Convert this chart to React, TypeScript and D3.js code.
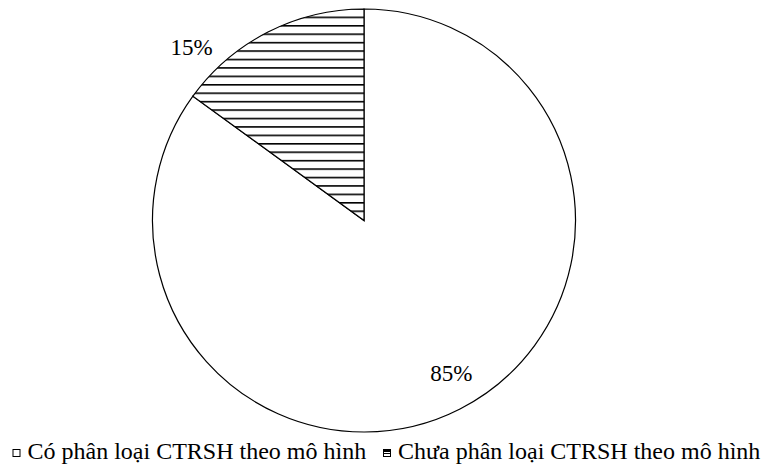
import * as d3 from "d3";
import { useEffect, useRef } from "react";

const categories: string[] = [
  "Có phân loại CTRSH theo mô hình",
  "Chưa phân loại CTRSH theo mô hình",
];
const shares: number[] = [85, 15];
const labels: string[] = ["85%", "15%"];

const serif = "Liberation Serif, Times New Roman, Times, serif";

export default function App() {
  const width = 765;
  const height = 468;
  const cx = 364;
  const cy = 220.5;
  const radius = 211.5;

  const svgRef = useRef<SVGSVGElement>(null);

  useEffect(() => {
    const svgEl = d3.select(svgRef.current);
    svgEl.selectAll("*").remove();

    // hatch pattern for the second slice
    const defs = svgEl.append("defs");
    const hatch = defs.append("pattern")
      .attr("id", "hatch")
      .attr("patternUnits", "userSpaceOnUse")
      .attr("width", 10)
      .attr("height", 8.43)
      .attr("y", 6.8);
    hatch.append("rect")
      .attr("width", 10)
      .attr("height", 8.43)
      .attr("fill", "#fff");
    hatch.append("line")
      .attr("x1", 0).attr("x2", 10)
      .attr("y1", 0.8).attr("y2", 0.8)
      .attr("stroke", "#000")
      .attr("stroke-width", 1.6);

    const fills = ["#fff", "url(#hatch)"];

    const pie = d3.pie<number>().sort(null).value(d => d);
    const arcs = pie(shares);

    const arc = d3.arc<d3.PieArcDatum<number>>()
      .innerRadius(0)
      .outerRadius(radius);

    const g = svgEl.append("g")
      .attr("transform", `translate(${cx},${cy})`);

    g.selectAll("path")
      .data(arcs)
      .join("path")
      .attr("d", arc)
      .attr("fill", (d, i) => fills[i])
      .attr("stroke", "#000")
      .attr("stroke-width", 1.2)
      .attr("stroke-linejoin", "miter");

    // labels: big slice inside, small slice outside (best fit)
    const labelPos = (d: d3.PieArcDatum<number>, i: number): [number, number] => {
      if (i === 0) {
        const a = (d.startAngle + d.endAngle) / 2 - 0.05;
        const r = radius * 0.83;
        return [Math.sin(a) * r, -Math.cos(a) * r];
      }
      const a = d.startAngle + 0.17 * (d.endAngle - d.startAngle);
      const r = radius + 33;
      return [Math.sin(a) * r, -Math.cos(a) * r];
    };

    g.selectAll("text")
      .data(arcs)
      .join("text")
      .attr("x", (d, i) => labelPos(d, i)[0])
      .attr("y", (d, i) => labelPos(d, i)[1])
      .attr("dy", "0.35em")
      .attr("text-anchor", "middle")
      .style("font-family", serif)
      .style("font-size", "23px")
      .attr("fill", "#000")
      .text((d, i) => labels[i]);

    // legend
    const legendX = [12.5, 383];
    const legend = svgEl.append("g");

    const items = legend.selectAll("g")
      .data(categories)
      .join("g")
      .attr("transform", (d, i) => `translate(${legendX[i]},459)`);

    items.append("rect")
      .attr("x", 0.5)
      .attr("y", -9.5)
      .attr("width", 7)
      .attr("height", 7)
      .attr("fill", "#fff")
      .attr("stroke", "#000")
      .attr("stroke-width", 1);

    items.filter((d, i) => i === 1)
      .append("rect")
      .attr("x", 0.5)
      .attr("y", -9.5)
      .attr("width", 7)
      .attr("height", 2.5)
      .attr("fill", "#000");

    items.filter((d, i) => i === 1)
      .append("line")
      .attr("x1", 0.5).attr("x2", 7.5)
      .attr("y1", -5.5).attr("y2", -5.5)
      .attr("stroke", "#000")
      .attr("stroke-width", 1);

    items.append("text")
      .attr("x", 15)
      .attr("y", 0)
      .style("font-family", serif)
      .style("font-size", "24px")
      .attr("fill", "#000")
      .text(d => d);
  }, []);

  return (
    <svg
      ref={svgRef}
      width={width}
      height={height}
      style={{ position: "absolute", left: 0, top: 0, background: "#fff" }}
      xmlns="http://www.w3.org/2000/svg"
    />
  );
}
